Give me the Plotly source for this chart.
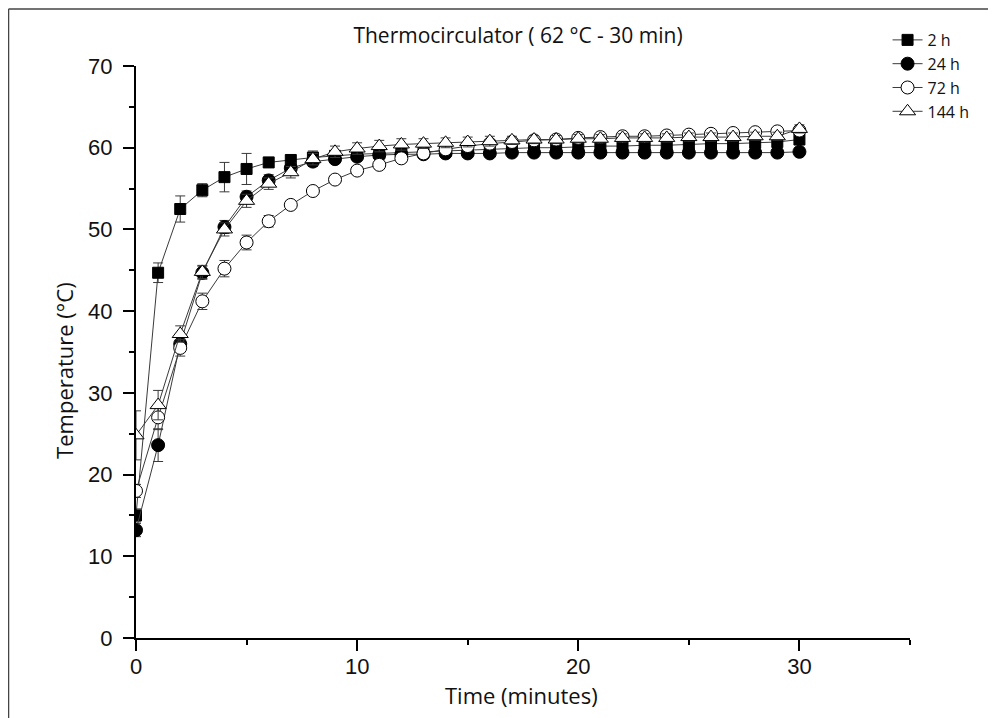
import plotly.graph_objects as go

time_min = list(range(31))

temp_2h = [15.0, 44.7, 52.5, 54.8, 56.4, 57.4, 58.2, 58.5, 58.8, 59.0, 59.2, 59.3, 59.4, 59.5, 59.6,
           59.7, 59.8, 59.9, 60.0, 60.0, 60.1, 60.2, 60.2, 60.3, 60.3, 60.4, 60.5, 60.5, 60.6, 60.7, 61.0]
err_2h = [0.8, 1.2, 1.6, 0.8, 1.8, 1.9, 0.6, 0.6, 0.8, 0.5, 0.5, 0.4, 0.4, 0.4, 0.4,
          0.4, 0.4, 0.4, 0.4, 0.3, 0.3, 0.3, 0.3, 0.3, 0.3, 0.3, 0.3, 0.3, 0.3, 0.3, 0.3]

temp_24h = [13.2, 23.6, 36.0, 44.7, 50.3, 54.0, 56.0, 57.5, 58.3, 58.6, 58.9, 59.1, 59.2, 59.2, 59.3,
            59.3, 59.3, 59.4, 59.4, 59.4, 59.4, 59.4, 59.4, 59.4, 59.4, 59.4, 59.4, 59.4, 59.4, 59.4, 59.5]
err_24h = [0.8, 2.0, 1.0, 0.8, 0.8, 0.7, 0.7, 0.6, 0.6, 0.5, 0.5, 0.5, 0.5, 0.5, 0.5,
           0.5, 0.4, 0.4, 0.4, 0.4, 0.4, 0.4, 0.4, 0.4, 0.4, 0.4, 0.4, 0.4, 0.4, 0.4, 0.4]

temp_72h = [18.0, 27.0, 35.5, 41.2, 45.2, 48.4, 51.0, 53.0, 54.7, 56.1, 57.2, 57.9, 58.7, 59.3, 59.8,
            60.2, 60.5, 60.7, 60.9, 61.0, 61.2, 61.3, 61.4, 61.4, 61.5, 61.6, 61.7, 61.8, 61.9, 62.0, 62.1]
err_72h = [0.8, 1.5, 1.0, 1.0, 1.0, 0.9, 0.7, 0.5, 0.5, 0.5, 0.5, 0.5, 0.5, 0.5, 0.5,
           0.5, 0.5, 0.4, 0.4, 0.4, 0.4, 0.4, 0.4, 0.4, 0.4, 0.4, 0.4, 0.4, 0.4, 0.4, 0.4]

temp_144h = [24.8, 28.5, 37.2, 44.8, 50.0, 53.5, 55.6, 57.0, 58.6, 59.5, 59.9, 60.2, 60.4, 60.5, 60.6,
             60.7, 60.8, 60.9, 61.0, 61.0, 61.1, 61.1, 61.2, 61.2, 61.2, 61.3, 61.3, 61.3, 61.4, 61.4, 62.3]
err_144h = [3.0, 1.8, 1.0, 0.8, 0.8, 0.8, 0.7, 0.7, 0.7, 0.7, 0.7, 0.7, 0.7, 0.6, 0.6,
            0.6, 0.6, 0.5, 0.5, 0.5, 0.5, 0.5, 0.5, 0.5, 0.5, 0.5, 0.5, 0.5, 0.5, 0.5, 0.5]

series = [
    ("2 h", temp_2h, err_2h, "square", "black", 11),
    ("24 h", temp_24h, err_24h, "circle", "black", 13),
    ("72 h", temp_72h, err_72h, "circle", "white", 13),
    ("144 h", temp_144h, err_144h, "triangle-up", "white", 14),
]

fig = go.Figure()
for name, y, e, sym, fill, size in series:
    fig.add_trace(go.Scatter(
        x=time_min, y=y, name=name, mode="lines+markers",
        line=dict(color="#3a3a3a", width=1),
        marker=dict(symbol=sym, size=size, color=fill, line=dict(color="black", width=1)),
        error_y=dict(type="data", array=e, visible=True, color="#3a3a3a", thickness=1, width=5),
    ))

TXT = "#111"
fig.update_layout(
    width=988, height=710,
    margin=dict(l=128, r=86, t=58, b=80),
    paper_bgcolor="white", plot_bgcolor="white",
    title=dict(text="Thermocirculator ( 62 °C - 30 min)", x=510 / 988, xanchor="center", xref="container",
               y=1 - 28 / 710, yanchor="middle", yref="container",
               font=dict(family="Open Sans", size=21, color=TXT)),
    showlegend=True,
    legend=dict(x=0.971, y=1.0752, xanchor="left", yanchor="top",
                font=dict(family="Open Sans", size=16, color=TXT),
                bgcolor="rgba(0,0,0,0)", tracegroupgap=0),
    xaxis=dict(range=[0, 35], tickvals=[0, 10, 20, 30], showgrid=False, zeroline=False,
               showline=True, linecolor="black", linewidth=2,
               ticks="outside", ticklen=11, tickwidth=2, tickcolor="black", ticklabelstandoff=-3,
               minor=dict(tickvals=[5, 15, 25, 35], ticks="outside", ticklen=5, tickwidth=2, tickcolor="black"),
               tickfont=dict(family="Liberation Sans", size=22, color=TXT)),
    yaxis=dict(range=[0, 70], tickvals=[0, 10, 20, 30, 40, 50, 60, 70], showgrid=False, zeroline=False,
               showline=True, linecolor="black", linewidth=2,
               ticks="outside", ticklen=11, tickwidth=2, tickcolor="black", ticklabelstandoff=6,
               minor=dict(tickvals=[5, 15, 25, 35, 45, 55, 65], ticks="outside", ticklen=5, tickwidth=2, tickcolor="black"),
               tickfont=dict(family="Liberation Sans", size=22, color=TXT)),
    annotations=[
        dict(text="Time (minutes)", xref="paper", yref="paper", x=0.4987, y=-0.0997,
             xanchor="center", yanchor="middle", showarrow=False,
             font=dict(family="Open Sans", size=22, color=TXT)),
        dict(text="Temperature (°C)", xref="paper", yref="paper", x=-0.093, y=0.467,
             xanchor="center", yanchor="middle", showarrow=False, textangle=-90,
             font=dict(family="Open Sans", size=22, color=TXT)),
    ],
    shapes=[
        dict(type="line", xref="paper", yref="paper", x0=-0.1647, x1=1.12, y0=1.0997, y1=1.0997,
             line=dict(color="#444", width=1.5)),
        dict(type="line", xref="paper", yref="paper", x0=-0.1647, x1=-0.1647, y0=1.0997, y1=-0.15,
             line=dict(color="#444", width=1.5)),
    ],
)

fig.write_html("out.html")
